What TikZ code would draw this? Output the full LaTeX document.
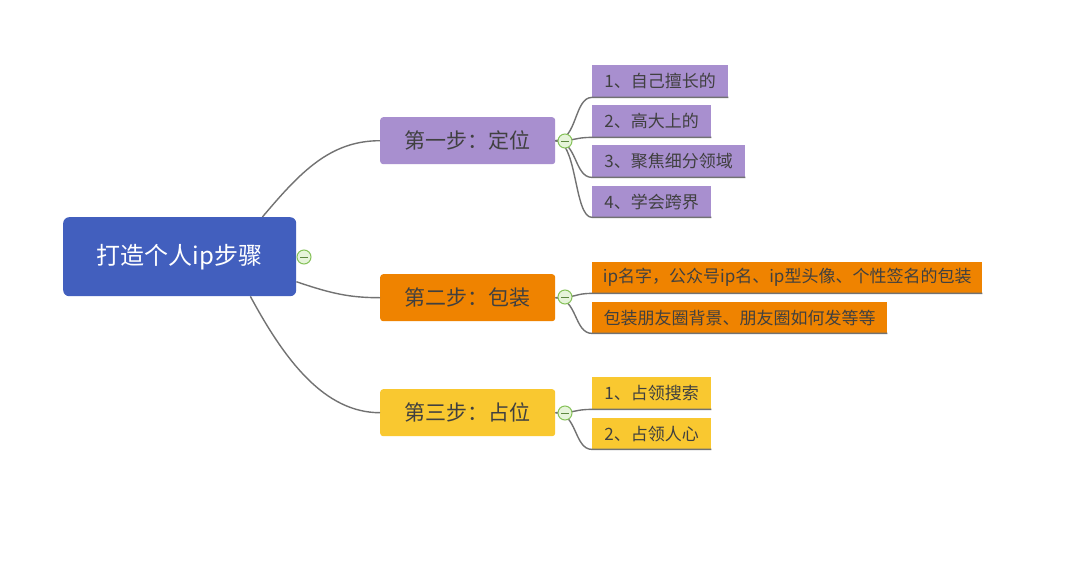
\documentclass[tikz,border=0pt]{standalone}
\usepackage{fontspec}
\setmainfont{Noto Sans CJK SC}
\definecolor{rootblue}{HTML}{425FBE}
\definecolor{stpurple}{HTML}{A88FCF}
\definecolor{storange}{HTML}{EF8300}
\definecolor{styellow}{HTML}{F9C830}
\definecolor{txtgray}{HTML}{404040}
\definecolor{linegray}{HTML}{727272}
\definecolor{tgreen}{HTML}{86C25A}
\definecolor{tfill}{HTML}{E6F4DA}
\begin{document}
\begin{tikzpicture}[x=1pt,y=-1pt,
  rootnode/.style={fill=rootblue, rounded corners=6pt, text=white, inner sep=0pt,
    anchor=north west, font=\fontsize{24}{28}\selectfont},
  stepbox/.style={rounded corners=3pt, text=txtgray, inner sep=0pt, anchor=north west,
    minimum width=175pt, minimum height=47pt, font=\fontsize{21}{25}\selectfont},
  leaf/.style={inner sep=0pt, anchor=north west, text=txtgray,
    font=\fontsize{17}{20}\selectfont},
  conn/.style={draw=linegray, line width=1.4pt},
  toggle/.style={circle, draw=tgreen, fill=tfill, line width=1pt, minimum size=14pt,
    inner sep=0pt,
    path picture={\draw[tgreen!70!black, line width=1pt]
      ([xshift=-4pt]path picture bounding box.center) --
      ([xshift=4pt]path picture bounding box.center);}}
]
\path[use as bounding box, fill=white] (0,0) rectangle (1080,579);

% root
\node[rootnode, minimum width=233pt, minimum height=79pt] (root) at (63,217) {打造个人ip步骤};

% steps
\node[stepbox, fill=stpurple] (s1) at (380,117) {第一步：定位};
\node[stepbox, fill=storange] (s2) at (380,274) {第二步：包装};
\node[stepbox, fill=styellow] (s3) at (380,389) {第三步：占位};

% leaves
\node[leaf, fill=stpurple, minimum width=136pt, minimum height=32pt] (l11) at (592,65) {1、自己擅长的};
\node[leaf, fill=stpurple, minimum width=119pt, minimum height=32pt] (l12) at (592,105) {2、高大上的};
\node[leaf, fill=stpurple, minimum width=153pt, minimum height=32pt] (l13) at (592,145) {3、聚焦细分领域};
\node[leaf, fill=stpurple, minimum width=119pt, minimum height=31pt] (l14) at (592,186) {4、学会跨界};
\node[leaf, fill=storange, minimum width=390pt, minimum height=31pt] (l21) at (592,262) {ip名字，公众号ip名、ip型头像、个性签名的包装};
\node[leaf, fill=storange, minimum width=295pt, minimum height=31pt] (l22) at (592,302) {包装朋友圈背景、朋友圈如何发等等};
\node[leaf, fill=styellow, minimum width=119pt, minimum height=32pt] (l31) at (592,377) {1、占领搜索};
\node[leaf, fill=styellow, minimum width=119pt, minimum height=31pt] (l32) at (592,418) {2、占领人心};

% root connectors
\draw[conn] ([xshift=-34pt]root.north east) .. controls +(38,-45) and +(-50,0) .. (s1.west);
\draw[conn] ([yshift=-25pt]root.east) .. controls +(35,12) and +(-30,0) .. (s2.west);
\draw[conn] ([xshift=-46pt]root.south east) .. controls +(35,65) and +(-55,0) .. (s3.west);

% step -> leaf connectors (flowing into the underline)
\foreach \s/\l in {s1/l11,s1/l12,s1/l13,s1/l14,s2/l21,s2/l22,s3/l31,s3/l32}{
  \draw[conn] (\s.east) .. controls +(22,0) and +(-18,0) .. (\l.south west) -- (\l.south east);
}

% toggles
\node[toggle] (t0) at (304,257) {};
\node[toggle] (t1) at (565,141) {};
\node[toggle] (t2) at (565,297) {};
\node[toggle] (t3) at (565,413) {};
\end{tikzpicture}
\end{document}
